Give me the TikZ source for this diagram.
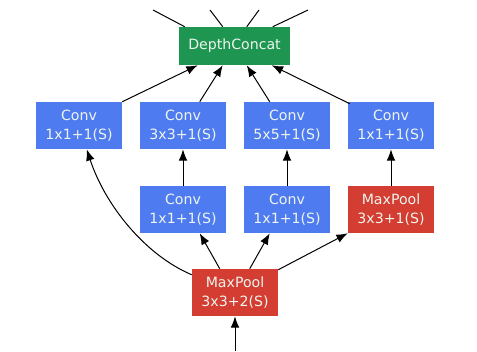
\documentclass[tikz,border=0pt]{standalone}
\usepackage{fontspec}
\setmainfont{DejaVu Sans}
\usetikzlibrary{calc,arrows.meta}
\definecolor{convblue}{HTML}{4F7BF0}
\definecolor{poolred}{HTML}{D33D32}
\definecolor{catgreen}{HTML}{1E9652}
\definecolor{txt}{HTML}{EEF5EE}
\begin{document}
\begin{tikzpicture}[x=0.75pt,y=-0.75pt,
  box/.style={inner sep=0pt,minimum width=64.5pt,minimum height=35.25pt,align=center,
    text=txt,font=\fontsize{10.6}{14.25}\selectfont},
  conv/.style={box,fill=convblue},
  pool/.style={box,fill=poolred},
  cat/.style={box,fill=catgreen,minimum width=83.25pt,minimum height=28.5pt},
  arr/.style={-{Latex[length=8.5pt,width=6.5pt]},line width=0.75pt},
  ln/.style={line width=0.75pt}]
\useasboundingbox (0,0) rectangle (477,351);
\node[cat] (dc) at (234.5,46) {DepthConcat};
\node[conv] (c1) at (79,125.5) {Conv\\1x1+1(S)};
\node[conv] (c2) at (183,125.5) {Conv\\3x3+1(S)};
\node[conv] (c3) at (287,125.5) {Conv\\5x5+1(S)};
\node[conv] (c4) at (391,125.5) {Conv\\1x1+1(S)};
\node[conv] (r2) at (183,209.5) {Conv\\1x1+1(S)};
\node[conv] (r3) at (287,209.5) {Conv\\1x1+1(S)};
\node[pool] (p1) at (391,209.5) {MaxPool\\3x3+1(S)};
\node[pool] (mp) at (235,292.5) {MaxPool\\3x3+2(S)};
\coordinate (o1) at (153,10);
\coordinate (o2) at (210,10);
\coordinate (o3) at (259,10);
\coordinate (o4) at (308,10);
\coordinate (in) at (235,351);
% outputs
\draw[ln] ($(dc.north west)+(6,0)$) -- (o1);
\draw[ln] ($(dc.north west)+(44,0)$) -- (o2);
\draw[ln] ($(dc.north west)+(68,0)$) -- (o3);
\draw[ln] ($(dc.north west)+(94,0)$) -- (o4);
% into concat
\draw[arr] (c1.north east) -- ($(dc.south west)+(19,0)$);
\draw[arr] ($(c2.north west)+(60,0)$) -- ($(dc.south west)+(44,0)$);
\draw[arr] ($(c3.north west)+(26,0)$) -- ($(dc.south west)+(68,0)$);
\draw[arr] ($(c4.north west)+(2,2)$) -- ($(dc.south west)+(93,0)$);
% second row to first row
\draw[arr] (r2) -- (c2);
\draw[arr] (r3) -- (c3);
\draw[arr] (p1) -- (c4);
% from bottom pool
\draw[arr] ($(mp.north west)+(28,0)$) -- ($(r2.south west)+(60,0)$);
\draw[arr] ($(mp.north west)+(58,0)$) -- ($(r3.south west)+(26,0)$);
\draw[arr] ($(mp.north east)+(0,1)$) -- (p1.south west);
\draw[arr] ($(mp.north west)+(0,6)$) .. controls (145,255) and (105,205) .. ($(c1.south west)+(51,0)$);
\draw[arr] (in) -- (mp);
\end{tikzpicture}
\end{document}
